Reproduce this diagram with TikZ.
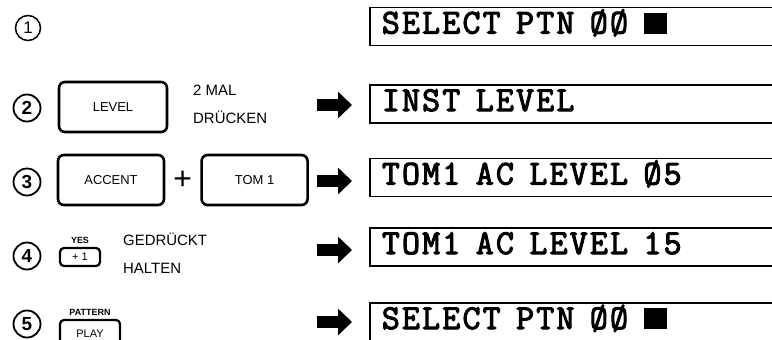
\documentclass[tikz,border=0pt]{standalone}
\usepackage{fontspec}
\setmainfont{Liberation Sans}
\newfontfamily\lcdfont{Latin Modern Mono}[FakeBold=3, LetterSpace=6.3]
\newcommand\lcdblock{\rule{23bp}{21bp}}
\newcommand\lcdspacing{\setlength{\spaceskip}{15.5bp}}
\usetikzlibrary{calc,positioning,arrows.meta}

\begin{document}
\begin{tikzpicture}[
    x=1bp, y=-1bp,
    stepno/.style={
      circle, draw, line width=1.8bp, inner sep=0pt,
      minimum size=27bp, font=\fontsize{19}{19}\selectfont\bfseries
    },
    key/.style={
      rectangle, rounded corners=6bp, draw, line width=2.6bp,
      minimum width=106bp, minimum height=50bp,
      font=\fontsize{13}{13}\selectfont
    },
    smallkey/.style={key, rounded corners=4bp, line width=2.2bp,
      minimum width=40bp, minimum height=18bp, font=\fontsize{11}{11}\selectfont},
    keylabel/.style={inner sep=0pt, font=\fontsize{9}{9}\selectfont\bfseries},
    note/.style={anchor=base west, inner sep=0pt, font=\fontsize{15}{15}\selectfont},
    display/.style={
      rectangle, draw, line width=1.8bp, anchor=west,
      text width=386bp, align=left, inner xsep=12bp,
      minimum height=38bp, text height=22bp, text depth=8bp,
      font=\lcdfont\fontsize{35}{35}\selectfont,
      execute at begin node=\lcdspacing
    },
    push/.style={line width=12bp, -{Triangle[length=14bp, width=26bp]}}
  ]
    \useasboundingbox (0,0) rectangle (772,339);
    \clip (0,0) rectangle (772,339);

    \node[stepno, line width=1.5bp, minimum size=25bp, font=\fontsize{17}{17}\selectfont] (n1) at (28,28) {1};
    \node[stepno] (n2) at (27,108) {2};
    \node[stepno] (n3) at (27,182) {3};
    \node[stepno] (n4) at (27,256) {4};
    \node[stepno] (n5) at (27,324) {5};

    \node[key, minimum width=108bp] (klevel) at (113,107) {LEVEL};
    \node[key] (kaccent) at (111,180) {ACCENT};
    \node[key, right=35bp of kaccent] (ktom) {TOM 1};
    \node[inner sep=0pt, font=\fontsize{32}{32}\selectfont] (plus) at ($(kaccent.east)!0.5!(ktom.west)$) {+};
    \node[smallkey] (kyes) at (80,257) {+ 1};
    \node[keylabel, above=3bp of kyes] (lyes) {YES};
    \node[smallkey, minimum width=60bp, minimum height=28bp] (kplay) at (90,334) {PLAY};
    \node[keylabel, above=3bp of kplay] (lplay) {PATTERN};

    \node[note] (t2a) at (193,95) {2 MAL};
    \node[note] (t2b) at (193,123) {DRÜCKEN};
    \node[note] (t4a) at (123,245) {GEDRÜCKT};
    \node[note] (t4b) at (123,273) {HALTEN};

    \node[display] (d1) at (369,26.5) {SELECT PTN ØØ \lcdblock};
    \node[display] (d2) at (369,104) {INST LEVEL};
    \node[display] (d3) at (369,177.5) {TOM1 AC LEVEL Ø5};
    \node[display] (d4) at (369,247) {TOM1 AC LEVEL 15};
    \node[display] (d5) at (369,322) {SELECT PTN ØØ \lcdblock};

    \coordinate (s2) at (317,105);
    \coordinate (s3) at (317,181);
    \coordinate (s4) at (317,250);
    \coordinate (s5) at (317,322);

    \draw[push] (s2) -- ([xshift=-17bp]s2 -| d2.west);
    \draw[push] (s3) -- ([xshift=-17bp]s3 -| d3.west);
    \draw[push] (s4) -- ([xshift=-17bp]s4 -| d4.west);
    \draw[push] (s5) -- ([xshift=-17bp]s5 -| d5.west);
  \end{tikzpicture}
\end{document}
